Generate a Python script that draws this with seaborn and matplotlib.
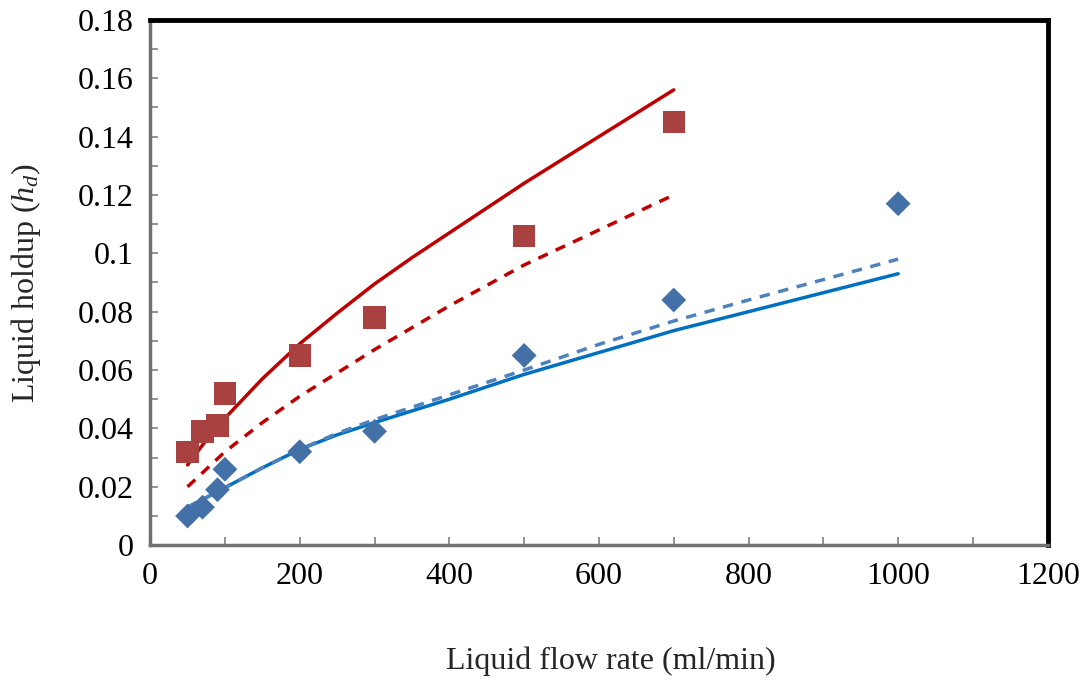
import matplotlib
matplotlib.use("Agg")
import matplotlib.pyplot as plt
import matplotlib.ticker as mticker
import seaborn as sns

# experimental points
flow_blue = [50, 70, 90, 100, 200, 300, 500, 700, 1000]
holdup_blue = [0.010, 0.013, 0.019, 0.026, 0.032, 0.039, 0.065, 0.084, 0.117]
flow_red = [50, 70, 90, 100, 200, 300, 500, 700]
holdup_red = [0.032, 0.039, 0.041, 0.052, 0.065, 0.078, 0.106, 0.145]

# model curves
flow_model_blue = [50, 75, 100, 150, 200, 250, 300, 400, 500, 600, 700, 800, 900, 1000]
blue_solid = [0.013, 0.0163, 0.0197, 0.0265, 0.0328, 0.0378, 0.042, 0.050, 0.0585,
              0.066, 0.0735, 0.080, 0.0865, 0.093]
blue_dashed = [0.013, 0.0163, 0.0197, 0.0265, 0.0328, 0.0383, 0.043, 0.0515, 0.060,
               0.0688, 0.0768, 0.084, 0.091, 0.098]
flow_model_red = [50, 75, 100, 150, 200, 250, 300, 350, 400, 500, 600, 700]
red_solid = [0.0275, 0.036, 0.0435, 0.057, 0.069, 0.0795, 0.0895, 0.0985, 0.107,
             0.124, 0.140, 0.156]
red_dashed = [0.020, 0.026, 0.032, 0.042, 0.051, 0.059, 0.067, 0.0745, 0.082,
              0.096, 0.108, 0.120]

sns.set_style("white")
plt.rcParams["font.family"] = ["Liberation Serif", "DejaVu Serif"]
plt.rcParams["mathtext.fontset"] = "custom"
plt.rcParams["mathtext.rm"] = "Liberation Serif"
plt.rcParams["mathtext.it"] = "Liberation Serif:italic"

fig = plt.figure(figsize=(10.88, 6.84), dpi=100)
ax = fig.add_axes([0.138, 0.203, 0.825, 0.768])

sns.lineplot(x=flow_model_red, y=red_solid, color="#C00000", lw=2.5, ax=ax)
sns.lineplot(x=flow_model_red, y=red_dashed, color="#C00000", lw=2.5, ax=ax,
             linestyle=(0, (3, 2.5)))
sns.lineplot(x=flow_model_blue, y=blue_solid, color="#0070C0", lw=2.5, ax=ax)
sns.lineplot(x=flow_model_blue, y=blue_dashed, color="#4F81BD", lw=2.5, ax=ax,
             linestyle=(0, (3, 2.5)))

sns.scatterplot(x=flow_red, y=holdup_red, marker="s", s=260, color="#A8413F",
                edgecolor="none", ax=ax, zorder=3)
sns.scatterplot(x=flow_blue, y=holdup_blue, marker="D", s=160, color="#4470A8",
                edgecolor="none", ax=ax, zorder=3)

ax.set_xlim(0, 1200)
ax.set_ylim(0, 0.18)
ax.xaxis.set_major_locator(mticker.MultipleLocator(200))
ax.xaxis.set_minor_locator(mticker.MultipleLocator(100))
ax.yaxis.set_major_locator(mticker.MultipleLocator(0.02))
ax.yaxis.set_minor_locator(mticker.MultipleLocator(0.01))
ax.yaxis.set_major_formatter(mticker.FuncFormatter(
    lambda v, _: f"{v:.2f}".rstrip("0").rstrip(".") if v else "0"))
ax.tick_params(which="both", direction="in", length=6, width=1.2, color="#808080",
               labelsize=23, labelcolor="black")
ax.tick_params(axis="x", which="both", pad=12)
ax.tick_params(axis="y", which="both", pad=12)
ax.tick_params(which="both", bottom=True, left=True, top=False, right=False)

for side in ["left", "bottom"]:
    ax.spines[side].set_color("#707070")
    ax.spines[side].set_linewidth(2.5)
for side in ["top", "right"]:
    ax.spines[side].set_color("black")
    ax.spines[side].set_linewidth(3.5)

ax.set_xlabel("Liquid flow rate (ml/min)", fontsize=23, labelpad=40)
ax.xaxis.label.set_x(0.513)
ax.set_ylabel("Liquid holdup ($h_d$)", fontsize=23, labelpad=25)

plt.savefig("out.png", dpi=100)
plt.close()
